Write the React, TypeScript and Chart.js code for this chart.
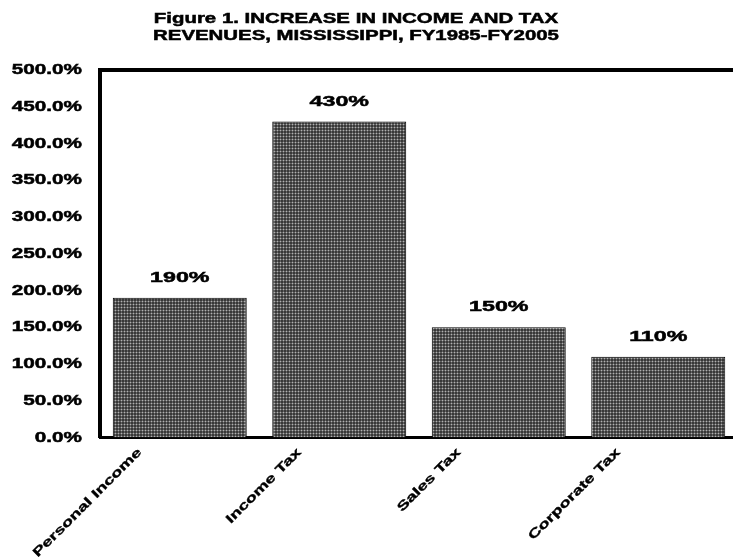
import React, { useEffect, useRef } from "react";
import { Chart, registerables } from "chart.js";

Chart.register(...registerables);

// Percent increase, FY1985 to FY2005
const categories = ["Personal Income", "Income Tax", "Sales Tax", "Corporate Tax"];
const increasePct = [190, 430, 150, 110];
const valueLabels = ["190%", "430%", "150%", "110%"];
const titleLines = [
  "Figure 1. INCREASE IN INCOME AND TAX",
  "REVENUES, MISSISSIPPI, FY1985-FY2005",
];
const yMin = 0;
const yMax = 500;
const yStep = 50;

const FONT = '"Liberation Sans", Arial, Helvetica, sans-serif';

function makeDotPattern(): CanvasPattern | string {
  const tile = document.createElement("canvas");
  tile.width = 3;
  tile.height = 3;
  const t = tile.getContext("2d");
  if (!t) return "#555";
  t.fillStyle = "#383838";
  t.fillRect(0, 0, 3, 3);
  t.fillStyle = "#626262";
  t.fillRect(1, 0, 1, 3);
  t.fillRect(0, 1, 3, 1);
  t.fillStyle = "#b0b0b0";
  t.fillRect(1, 1, 1, 1);
  const ctx = document.createElement("canvas").getContext("2d");
  return (ctx && ctx.createPattern(tile, "repeat")) || "#555";
}

// draw bold text widened horizontally around its anchor
function stretchedText(
  ctx: CanvasRenderingContext2D,
  text: string,
  x: number,
  y: number,
  sx: number,
  align: CanvasTextAlign,
  font: string
) {
  ctx.save();
  ctx.translate(x, y);
  ctx.scale(sx, 1);
  ctx.font = font;
  ctx.fillStyle = "#000";
  ctx.strokeStyle = "#000";
  ctx.lineWidth = 0.5;
  ctx.textAlign = align;
  ctx.textBaseline = "middle";
  ctx.fillText(text, 0, 0);
  ctx.strokeText(text, 0, 0);
  ctx.restore();
}

// the category axis runs a few pixels past the right edge of the canvas
const widenCategoryAxis = {
  id: "widenCategoryAxis",
  afterLayout(chart: any) {
    const x = chart.scales.x;
    x.right += 5;
    x.width += 5;
    x.configure();
  },
};

const textPlugin = {
  id: "figureText",
  afterDraw(chart: any) {
    const ctx: CanvasRenderingContext2D = chart.ctx;
    const yScale = chart.scales.y;
    const xScale = chart.scales.x;

    // title
    titleLines.forEach((line, i) => {
      stretchedText(ctx, line, 356, 18.5 + i * 17, 1.36, "center", `bold 15px ${FONT}`);
    });

    // y tick labels
    yScale.ticks.forEach((tk: any) => {
      const py = yScale.getPixelForValue(tk.value);
      stretchedText(ctx, `${tk.value.toFixed(1)}%`, 82, py, 1.38, "right", `bold 15px ${FONT}`);
    });

    // value labels over bars
    const meta = chart.getDatasetMeta(0);
    meta.data.forEach((bar: any, i: number) => {
      stretchedText(ctx, valueLabels[i], bar.x, bar.y - 20, 1.55, "center", `bold 15px ${FONT}`);
    });

    // rotated category labels
    categories.forEach((label, i) => {
      const cx = xScale.getPixelForTick(i);
      ctx.save();
      ctx.translate(cx - 40, chart.chartArea.bottom + 13);
      ctx.rotate(-Math.PI / 4);
      ctx.scale(1.32, 0.9);
      ctx.font = `bold 14px ${FONT}`;
      ctx.fillStyle = "#000";
      ctx.strokeStyle = "#000";
      ctx.lineWidth = 0.4;
      ctx.textAlign = "right";
      ctx.textBaseline = "middle";
      ctx.fillText(label, 0, 0);
      ctx.strokeText(label, 0, 0);
      ctx.restore();
    });
  },
};

export default function App() {
  const canvasRef = useRef<HTMLCanvasElement | null>(null);

  useEffect(() => {
    const canvas = canvasRef.current;
    if (!canvas) return;
    const pattern = makeDotPattern();

    const chart = new Chart(canvas, {
      type: "bar",
      data: {
        labels: categories,
        datasets: [
          {
            data: increasePct,
            backgroundColor: pattern as any,
            borderColor: "#000",
            borderWidth: 1,
            categoryPercentage: 1,
            barPercentage: 0.84,
          },
        ],
      },
      options: {
        responsive: false,
        animation: false,
        events: [],
        layout: { padding: { top: 70, left: 0, right: 0, bottom: 0 } },
        plugins: {
          legend: { display: false },
          title: { display: false },
          tooltip: { enabled: false },
        },
        scales: {
          x: {
            ticks: { display: false },
            grid: { display: false },
            border: { display: true, color: "#000", width: 3 },
            afterFit: (scale: any) => {
              scale.height = 119.5;
            },
          },
          y: {
            min: yMin,
            max: yMax,
            ticks: { display: false, stepSize: yStep },
            grid: {
              drawTicks: false,
              color: (c: any) => (c.tick && c.tick.value === yMax ? "#000" : "rgba(0,0,0,0)"),
              lineWidth: (c: any) => (c.tick && c.tick.value === yMax ? 4 : 0),
            },
            border: { display: true, color: "#000", width: 4 },
            afterFit: (scale: any) => {
              scale.width = 100;
            },
          },
        },
      },
      plugins: [widenCategoryAxis, textPlugin],
    });

    return () => chart.destroy();
  }, []);

  return (
    <div style={{ position: "absolute", left: 0, top: 0, width: 733, height: 557, background: "#fff" }}>
      <canvas ref={canvasRef} width={733} height={557} style={{ display: "block" }} />
    </div>
  );
}
